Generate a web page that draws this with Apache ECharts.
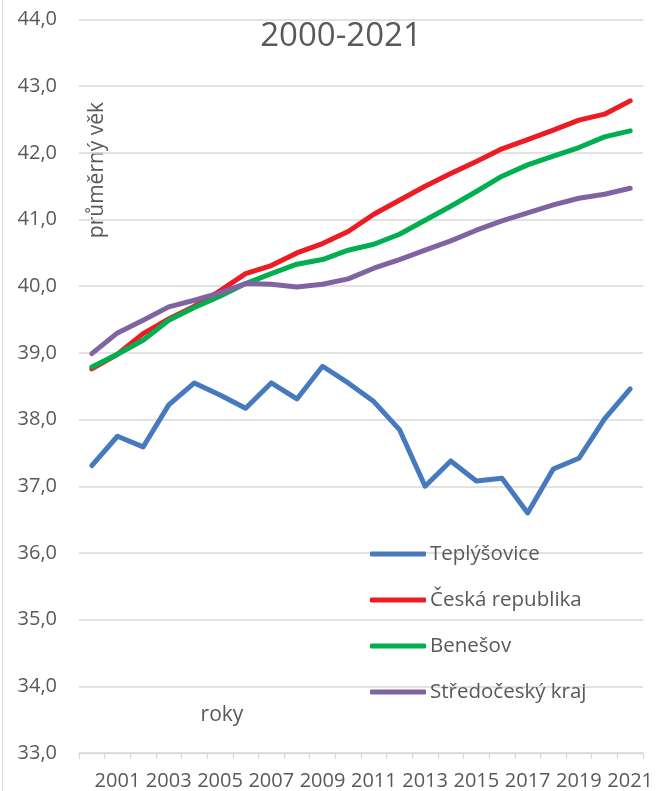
<!DOCTYPE html>
<html>
<head>
<meta charset="utf-8">
<script src="https://cdn.jsdelivr.net/npm/echarts@6/dist/echarts.min.js"></script>
<style>
html,body{margin:0;padding:0;background:#fff;}
#main{width:663px;height:791px;}
</style>
</head>
<body>
<div id="main"></div>
<script>
const years = ['2000','2001','2002','2003','2004','2005','2006','2007','2008','2009','2010','2011','2012','2013','2014','2015','2016','2017','2018','2019','2020','2021'];
const teplysovice = [37.31,37.75,37.59,38.22,38.55,38.37,38.17,38.55,38.31,38.80,38.55,38.27,37.85,37.00,37.38,37.08,37.12,36.60,37.26,37.42,38.01,38.46];
const ceskaRepublika = [38.76,38.98,39.29,39.51,39.70,39.93,40.19,40.31,40.50,40.64,40.82,41.08,41.29,41.50,41.69,41.87,42.06,42.20,42.34,42.49,42.58,42.78];
const benesov = [38.79,38.98,39.19,39.49,39.68,39.85,40.04,40.19,40.33,40.40,40.54,40.63,40.78,40.99,41.20,41.42,41.65,41.82,41.95,42.08,42.24,42.33];
const stredocesky = [38.99,39.30,39.49,39.69,39.79,39.90,40.04,40.03,39.99,40.03,40.11,40.27,40.40,40.54,40.68,40.84,40.98,41.10,41.22,41.32,41.38,41.47];
const seriesNames = ['Teplýšovice','Česká republika','Benešov','Středočeský kraj'];
const seriesColors = ['#4679BD','#ED1C24','#00B050','#8064A2'];
const yMin = 33, yMax = 44, yStep = 1;
const titleText = '2000-2021';
const yAxisName = 'průměrný věk';
const xAxisName = 'roky';

const FONT = 'Open Sans';
const TXT = '#595959';
const chart = echarts.init(document.getElementById('main'));
const data = [teplysovice, ceskaRepublika, benesov, stredocesky];

chart.setOption({
  animation: false,
  backgroundColor: '#fff',
  textStyle: {fontFamily: FONT, color: TXT},
  grid: {left: 79, right: 20, top: 19.5, bottom: 38, containLabel: false, outerBoundsMode: 'none'},
  title: {
    text: titleText, left: 341, top: 20, textAlign: 'center', padding: 0,
    textStyle: {fontFamily: FONT, fontSize: 33, fontWeight: 'normal', color: TXT}
  },
  legend: {
    orient: 'vertical', left: 370, top: 543, padding: 0,
    icon: 'roundRect', itemWidth: 56, itemHeight: 5, itemGap: 24,
    textStyle: {fontFamily: FONT, fontSize: 20.5, color: TXT, lineHeight: 22, padding: [0,0,0,-1]},
    data: seriesNames
  },
  xAxis: {
    type: 'category', data: years, boundaryGap: true,
    axisLine: {show: true, lineStyle: {color: '#D9D9D9', width: 1.3}},
    axisTick: {show: true, interval: 0, length: 6, lineStyle: {color: '#D9D9D9', width: 1.3}},
    axisLabel: {
      interval: function (i) { return i % 2 === 1; },
      fontFamily: FONT, fontSize: 20, color: TXT, margin: 18
    },
    splitLine: {show: false}
  },
  yAxis: {
    type: 'value', min: yMin, max: yMax, interval: yStep,
    axisLine: {show: false}, axisTick: {show: false},
    axisLabel: {
      formatter: v => v.toFixed(1).replace('.', ','),
      fontFamily: FONT, fontSize: 20, color: TXT, margin: 22
    },
    splitLine: {show: true, lineStyle: {color: '#D9D9D9', width: 1.5}}
  },
  graphic: [
    {type: 'line', shape: {x1: 2.5, y1: 0, x2: 2.5, y2: 791}, style: {stroke: '#D9D9D9', lineWidth: 1}},
    {type: 'text', x: 97, y: 170, rotation: Math.PI / 2,
     style: {text: yAxisName, fontFamily: FONT, fontSize: 21, fill: TXT, align: 'center', verticalAlign: 'middle'}},
    {type: 'text', x: 222, y: 715,
     style: {text: xAxisName, fontFamily: FONT, fontSize: 21, fill: TXT, align: 'center', verticalAlign: 'middle'}}
  ],
  series: seriesNames.map((n, i) => ({
    name: n, type: 'line', data: data[i],
    showSymbol: false, symbol: 'none',
    lineStyle: {color: seriesColors[i], width: 5, cap: 'round', join: 'round'},
    itemStyle: {color: seriesColors[i]},
    z: 2 + i
  }))
});
</script>
</body>
</html>
